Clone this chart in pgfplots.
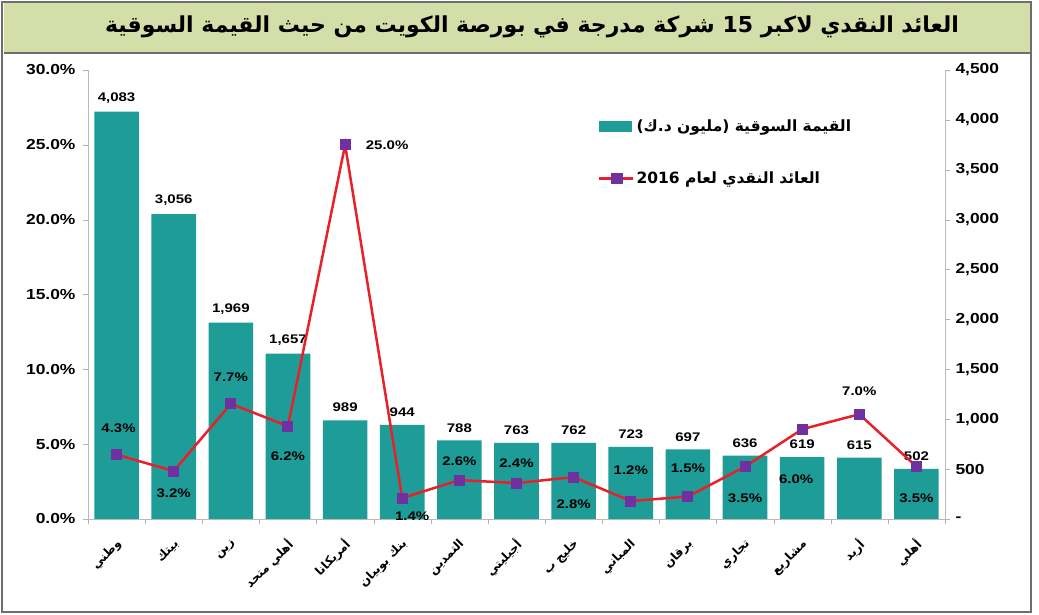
\documentclass[border=0pt]{standalone}
\usepackage{pgfplots}
\pgfplotsset{compat=1.18}
\usepackage{pgfplotstable}
\usepackage{fontspec}
\setmainfont{Liberation Sans}
\newfontfamily\numfont[FakeStretch=1.2]{Liberation Sans}
\newfontfamily\arabicfont[Script=Arabic]{DejaVu Sans}
\TeXXeTstate=1
\definecolor{barcol}{RGB}{30,156,152}
\definecolor{linecol}{RGB}{232,32,42}
\definecolor{mkcol}{RGB}{112,48,160}
\definecolor{titlebg}{RGB}{212,222,168}
\definecolor{framecol}{RGB}{110,110,110}

\pgfplotstableread{
x val
0 4083
1 3056
2 1969
3 1657
4 989
5 944
6 788
7 763
8 762
9 723
10 697
11 636
12 619
13 615
14 502
}\bars

\pgfplotstableread{
x y lab dx dy
0 4.3 4.3 2 26
1 3.2 3.2 0 -22
2 7.7 7.7 0 27
3 6.2 6.2 0 -30
4 25.0 25.0 42 0
5 1.4 1.4 10 -18
6 2.6 2.6 0 19
7 2.4 2.4 0 20
8 2.8 2.8 0 -27
9 1.2 1.2 0 31
10 1.5 1.5 0 28
11 3.5 3.5 0 -32
12 6.0 6.0 -6 -50
13 7.0 7.0 0 23
14 3.5 3.5 0 -32
}\yld

\begin{document}
\begin{tikzpicture}
\path[use as bounding box] (0,0) rectangle (1039pt,615pt);
\fill[white] (0,0) rectangle (1039pt,615pt);
% title bar
\fill[titlebg] (4pt,563pt) rectangle (1030pt,612pt);
\draw[framecol, line width=2.5pt] (4pt,562pt) -- (1030pt,562pt);
\node[font=\arabicfont\bfseries\fontsize{22}{26}\selectfont] at (532pt,588pt)
  {\beginR العائد النقدي لاكبر \beginL15\endL{} شركة مدرجة في بورصة الكويت من حيث القيمة السوقية\endR};
% frame
\draw[framecol, line width=2pt] (2pt,3pt) rectangle (1031pt,613pt);

\begin{axis}[
  at={(88pt,96pt)}, anchor=south west,
  scale only axis, width=857pt, height=449pt,
  xmin=-0.5, xmax=14.5, ymin=0, ymax=4500,
  axis y line*=right, axis x line*=bottom,
  axis line style={gray!55, line width=0.8pt},
  tick align=outside,
  major tick length=5pt, minor tick length=5pt,
  ytick={0,500,...,4500},
  yticklabels={-,500,{1,000},{1,500},{2,000},{2,500},{3,000},{3,500},{4,000},{4,500}},
  yticklabel style={font=\numfont\bfseries\fontsize{14.5}{16}\selectfont, xshift=2pt},
  y tick style={gray!60},
  xtick={0,...,14},
  xticklabels={
    {\beginR وطني\endR},
    {\beginR بيتك\endR},
    {\beginR زين\endR},
    {\beginR أهلي متحد\endR},
    {\beginR أمريكانا\endR},
    {\beginR بنك بوبيان\endR},
    {\beginR التمدين\endR},
    {\beginR أجيليتي\endR},
    {\beginR خليج ب\endR},
    {\beginR المباني\endR},
    {\beginR برقان\endR},
    {\beginR تجاري\endR},
    {\beginR مشاريع\endR},
    {\beginR أريد\endR},
    {\beginR أهلي\endR}},
  xticklabel style={xshift=3pt, yshift=-18pt, rotate=45, anchor=east, inner sep=0pt,
     font=\arabicfont\bfseries\fontsize{12}{14}\selectfont},
  major x tick style={draw=none},
  minor xtick={-0.5,0.5,...,14.5},
  minor x tick style={gray!60},
  /pgf/number format/assume math mode=true,
  clip=false,
]
\addplot[ybar, bar width=44.6pt, fill=barcol, draw=none,
  nodes near coords,
  nodes near coords style={font=\numfont\bfseries\fontsize{12.5}{14}\selectfont, anchor=south, inner sep=0pt, yshift=8pt, text=black}]
  table[x=x, y=val] {\bars};
\end{axis}

\begin{axis}[
  at={(88pt,96pt)}, anchor=south west,
  scale only axis, width=857pt, height=449pt,
  xmin=-0.5, xmax=14.5, ymin=0, ymax=30,
  axis y line*=left, axis x line=none,
  axis line style={gray!55, line width=0.8pt},
  tick align=outside, major tick length=5pt,
  ytick={0,5,...,30},
  yticklabels={0.0\%,5.0\%,10.0\%,15.0\%,20.0\%,25.0\%,30.0\%},
  yticklabel style={font=\numfont\bfseries\fontsize{14.5}{16}\selectfont, xshift=-4pt},
  y tick style={gray!60},
  clip=false,
  legend style={at={(0.595,0.895)}, anchor=north west, draw=none, fill=none,
     inner sep=0pt, row sep=35pt,
     font=\arabicfont\bfseries\fontsize{15.5}{18}\selectfont,
     /tikz/every even column/.append style={column sep=6pt}},
  legend cell align=left,
]
\addlegendimage{legend image code/.code={\fill[barcol] (0pt,-5pt) rectangle (32pt,5pt);}}
\addlegendentry{\beginR القيمة السوقية (مليون د.ك)\endR}
\addplot[linecol, line width=2.5pt, mark=square*, mark size=5pt,
  mark options={draw=mkcol, fill=mkcol, line width=0pt},
  legend image code/.code={\draw[linecol, line width=2.5pt] (0pt,0pt) -- (34pt,0pt); \fill[mkcol] (13pt,-4.5pt) rectangle (22pt,4.5pt);},
  point meta=explicit symbolic,
  visualization depends on={\thisrow{dx} \as \ldx},
  visualization depends on={\thisrow{dy} \as \ldy},
  nodes near coords={\pgfplotspointmeta\%},
  nodes near coords style={font=\numfont\bfseries\fontsize{12.5}{14}\selectfont, anchor=center, inner sep=0pt, xshift=\ldx pt, yshift=\ldy pt, text=black}]
  table[x=x, y=y, meta=lab] {\yld};
\addlegendentry{\beginR العائد النقدي لعام \beginL2016\endL\endR}
\end{axis}
\end{tikzpicture}
\end{document}
